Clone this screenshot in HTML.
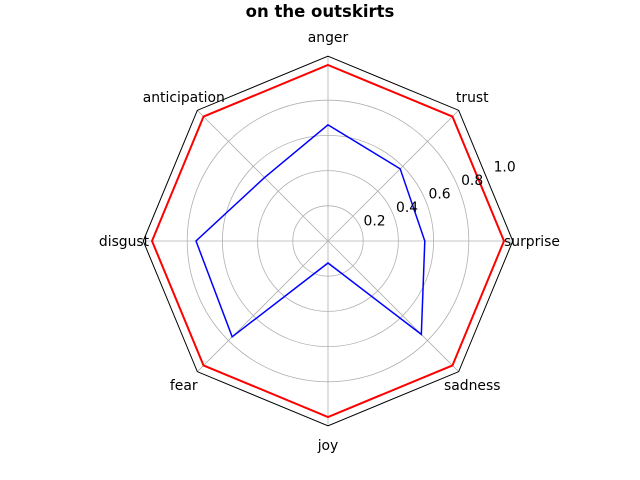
<!DOCTYPE html>
<html><head><meta charset="utf-8"><style>
body{margin:0;background:#fff;}
svg{display:block;font-family:"DejaVu Sans","Liberation Sans",sans-serif;}
</style></head><body>
<svg id="chart" width="640" height="480">
<text x="320" y="17" text-anchor="middle" font-size="16.5" font-weight="bold">on the outskirts</text>
<g id="grid"></g><g id="series"></g><g id="labels"></g>
</svg>
<script>
const categories=["anger","trust","surprise","sadness","joy","fear","disgust","anticipation"];
const seriesRed=[1,1,1,1,1,1,1,1];
const seriesBlue=[0.66,0.58,0.55,0.75,0.125,0.77,0.75,0.51];
const radialTicks=[0.2,0.4,0.6,0.8,1.0];
const tickLabels=["0.2","0.4","0.6","0.8","1.0"];
const cx=328,cy=241,R=176,rmax=1.05;
const NS="http://www.w3.org/2000/svg";
function rad(v){return v/1.0*R;}
function ang(i){return Math.PI/2-i*2*Math.PI/categories.length;}
function pt(i,v){const a=ang(i);return [cx+rad(v)*Math.cos(a),cy-rad(v)*Math.sin(a)];}
function mk(tag,attrs,parent){const e=document.createElementNS(NS,tag);for(const k in attrs)e.setAttribute(k,attrs[k]);parent.appendChild(e);return e;}
const grid=document.getElementById('grid'),ser=document.getElementById('series'),lab=document.getElementById('labels');
radialTicks.forEach((t,i)=>{
 if(t<1.0){
 const c=mk('circle',{cx:cx,cy:cy,r:rad(t),fill:'none',stroke:'#b0b0b0','stroke-width':0.8},grid);
 
 
 }
 const a=22.5*Math.PI/180;
 const tx=mk('text',{x:cx+rad(t)*Math.cos(a)+3,y:cy-rad(t)*Math.sin(a)-2,'font-size':13.9},lab);
 tx.textContent=tickLabels[i];
 
 
});
categories.forEach((c,i)=>{
 const p=pt(i,rmax);
 const l=mk('line',{x1:cx,y1:cy,x2:p[0],y2:p[1],stroke:'#b0b0b0','stroke-width':0.8},grid);
 
 
 const q=pt(i,204/R);
 const t=mk('text',{x:q[0],y:q[1]+5,'text-anchor':'middle','font-size':13.9},lab);
 t.textContent=c;
 
 
});
function poly(vals,color,name,parent,w){
 const pts=vals.map((v,i)=>pt(i,v).join(',')).join(' ');
 const p=mk('polygon',{points:pts,fill:'none',stroke:color,'stroke-width':w},parent);
 
 
}
poly(categories.map(()=>rmax),'#000','frame',grid,1);
poly(seriesRed,'#ff0000','series-red',ser,2);
poly(seriesBlue,'#0000ff','series-blue',ser,1.5);
</script>
</body></html>
